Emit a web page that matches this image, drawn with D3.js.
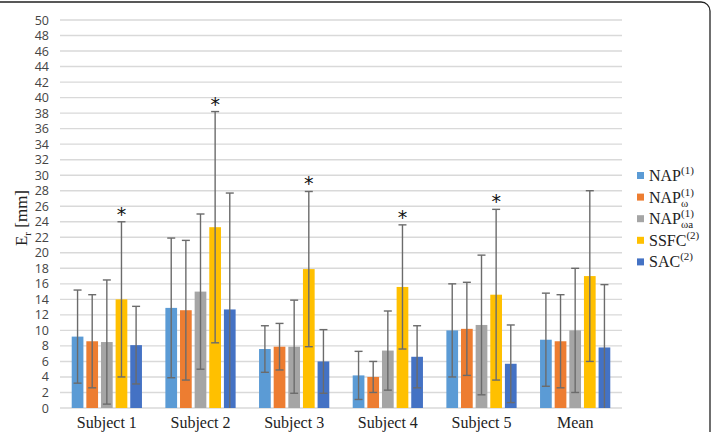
<!DOCTYPE html>
<html>
<head>
<meta charset="utf-8">
<script src="https://cdn.jsdelivr.net/npm/d3@7"></script>
<style>
  body { margin: 0; background: #fff; }
  svg { display: block; }
</style>
</head>
<body>
<div id="chart"></div>
<script>
// data
var categories = ['Subject 1', 'Subject 2', 'Subject 3', 'Subject 4', 'Subject 5', 'Mean'];
var seriesNames = ['NAP', 'NAPw', 'NAPwa', 'SSFC', 'SAC'];
var napMean   = [9.2, 12.9, 7.6, 4.2, 10.0, 8.8];
var napSd     = [6.0, 9.0, 3.0, 3.1, 6.0, 6.0];
var napwMean  = [8.6, 12.6, 7.9, 4.0, 10.2, 8.6];
var napwSd    = [6.0, 9.0, 3.0, 2.0, 6.0, 6.0];
var napwaMean = [8.5, 15.0, 7.9, 7.4, 10.7, 10.0];
var napwaSd   = [8.0, 10.0, 6.0, 5.1, 9.0, 8.0];
var ssfcMean  = [14.0, 23.3, 17.9, 15.6, 14.6, 17.0];
var ssfcSd    = [10.0, 14.9, 10.0, 8.0, 11.0, 11.0];
var sacMean   = [8.1, 12.7, 6.0, 6.6, 5.7, 7.8];
var sacSd     = [5.0, 15.0, 4.1, 4.0, 5.0, 8.1];
var starred   = [true, true, true, true, true, false]; // asterisk over SSFC
var yTicks = d3.range(0, 51, 2);

var colors = ['#5B9BD5', '#ED7D31', '#A5A5A5', '#FFC000', '#4472C4'];

var width = 713, height = 432;
var plotLeft = 60, plotRight = 622, plotTop = 20, plotBottom = 408;

var svg = d3.select('#chart').append('svg')
    .attr('width', width)
    .attr('height', height);

// frame of the figure
svg.append('rect')
    .attr('x', -10).attr('y', 2)
    .attr('width', 720).attr('height', 460)
    .attr('rx', 9)
    .attr('fill', 'none')
    .attr('stroke', '#222')
    .attr('stroke-width', 1.3);

var x0 = d3.scaleBand()
    .domain(categories)
    .range([plotLeft, plotRight])
    .paddingInner(0.25)
    .paddingOuter(0.125);

var x1 = d3.scaleBand()
    .domain(seriesNames)
    .range([0, x0.bandwidth()])
    .paddingInner(0.2);

var y = d3.scaleLinear()
    .domain([0, 50])
    .range([plotBottom, plotTop]);

// grid
svg.append('g')
    .selectAll('line')
    .data(yTicks)
    .enter()
    .append('line')
    .attr('x1', plotLeft)
    .attr('x2', plotRight)
    .attr('y1', function (d) { return y(d); })
    .attr('y2', function (d) { return y(d); })
    .attr('stroke', '#d9d9d9')
    .attr('stroke-width', 1.4);

// y axis labels
var yAxis = d3.axisLeft(y).tickValues(yTicks).tickSize(0).tickPadding(11);
var yg = svg.append('g')
    .attr('transform', 'translate(' + plotLeft + ',0)')
    .call(yAxis);
yg.select('.domain').remove();
yg.selectAll('text')
    .style('font-family', '"Open Sans", sans-serif')
    .style('font-size', '12.5px')
    .attr('fill', '#444');

// x axis labels
var xAxis = d3.axisBottom(x0).tickSize(0).tickPadding(9);
var xg = svg.append('g')
    .attr('transform', 'translate(0,' + plotBottom + ')')
    .call(xAxis);
xg.select('.domain').remove();
xg.selectAll('text')
    .style('font-family', '"Liberation Serif", serif')
    .style('font-size', '16px')
    .attr('fill', '#222');

// assemble the series
var allSeries = [
    { name: 'NAP', mean: napMean, sd: napSd },
    { name: 'NAPw', mean: napwMean, sd: napwSd },
    { name: 'NAPwa', mean: napwaMean, sd: napwaSd },
    { name: 'SSFC', mean: ssfcMean, sd: ssfcSd },
    { name: 'SAC', mean: sacMean, sd: sacSd }
];

var points = [];
allSeries.forEach(function (s, si) {
    categories.forEach(function (c, ci) {
        points.push({ cat: c, series: s.name, idx: si, v: s.mean[ci], sd: s.sd[ci], ci: ci });
    });
});

var bars = svg.append('g').attr('class', 'bars');

bars.selectAll('rect')
    .data(points)
    .enter()
    .append('rect')
    .attr('x', function (d) { return x0(d.cat) + x1(d.series); })
    .attr('y', function (d) { return y(d.v); })
    .attr('width', x1.bandwidth())
    .attr('height', function (d) { return y(0) - y(d.v); })
    .attr('fill', function (d) { return colors[d.idx]; });

// error bars
var errColor = '#6b6b6b';
var capHalf = 4;
var err = svg.append('g').attr('class', 'errors');

function cx(d) { return x0(d.cat) + x1(d.series) + x1.bandwidth() / 2; }

err.selectAll('line.stem')
    .data(points)
    .enter()
    .append('line')
    .attr('class', 'stem')
    .attr('x1', cx).attr('x2', cx)
    .attr('y1', function (d) { return y(Math.max(0, d.v - d.sd)); })
    .attr('y2', function (d) { return y(d.v + d.sd); })
    .attr('stroke', errColor)
    .attr('stroke-width', 1.4);

err.selectAll('line.top')
    .data(points)
    .enter()
    .append('line')
    .attr('class', 'top')
    .attr('x1', function (d) { return cx(d) - capHalf; })
    .attr('x2', function (d) { return cx(d) + capHalf; })
    .attr('y1', function (d) { return y(d.v + d.sd); })
    .attr('y2', function (d) { return y(d.v + d.sd); })
    .attr('stroke', errColor)
    .attr('stroke-width', 1.4);

err.selectAll('line.bottom')
    .data(points.filter(function (d) { return d.v - d.sd >= 0; }))
    .enter()
    .append('line')
    .attr('class', 'bottom')
    .attr('x1', function (d) { return cx(d) - capHalf; })
    .attr('x2', function (d) { return cx(d) + capHalf; })
    .attr('y1', function (d) { return y(d.v - d.sd); })
    .attr('y2', function (d) { return y(d.v - d.sd); })
    .attr('stroke', errColor)
    .attr('stroke-width', 1.4);

// asterisks over SSFC
svg.append('g')
    .selectAll('text')
    .data(points.filter(function (d) { return d.series === 'SSFC' && starred[d.ci]; }))
    .enter()
    .append('text')
    .attr('x', cx)
    .attr('y', function (d) { return y(d.v + d.sd) - 1; })
    .attr('text-anchor', 'middle')
    .style('font-family', '"DejaVu Sans", sans-serif')
    .style('font-size', '19px')
    .attr('fill', '#111')
    .text('*');

// y axis title: E_r [mm]
var yt = svg.append('text')
    .attr('transform', 'translate(27,' + ((plotTop + plotBottom) / 2 + 4) + ') rotate(-90)')
    .attr('text-anchor', 'middle')
    .style('font-family', '"Liberation Serif", serif')
    .style('font-size', '17px')
    .attr('fill', '#222');
yt.append('tspan').text('E');
yt.append('tspan').attr('dy', 4).style('font-size', '11px').text('r');
yt.append('tspan').attr('dy', -4).text(' [mm]');

// legend
var legendItems = [
    { base: 'NAP', sub: '', sup: '(1)' },
    { base: 'NAP', sub: 'ω', sup: '(1)' },
    { base: 'NAP', sub: 'ωa', sup: '(1)' },
    { base: 'SSFC', sub: '', sup: '(2)' },
    { base: 'SAC', sub: '', sup: '(2)' }
];
var legend = svg.append('g')
    .attr('transform', 'translate(637,176)');

legendItems.forEach(function (it, i) {
    var g = legend.append('g').attr('transform', 'translate(0,' + (i * 21.6) + ')');
    g.append('rect')
        .attr('x', 0).attr('y', -4)
        .attr('width', 7).attr('height', 7)
        .attr('fill', colors[i]);
    var t = g.append('text')
        .attr('x', 12)
        .attr('y', 5)
        .style('font-family', '"Liberation Serif", serif')
        .style('font-size', '16px')
        .attr('fill', '#222');
    t.append('tspan').text(it.base);
    if (it.sub) {
        var subStart = t.node().getComputedTextLength();
        t.append('tspan').attr('dy', 4).style('font-size', '11px').text(it.sub);
        t.append('tspan')
            .attr('x', 12 + subStart)
            .attr('dy', -11)
            .style('font-size', '11px')
            .text(it.sup);
    } else {
        t.append('tspan').attr('dy', -7).style('font-size', '11px').text(it.sup);
    }
});
</script>
</body>
</html>
